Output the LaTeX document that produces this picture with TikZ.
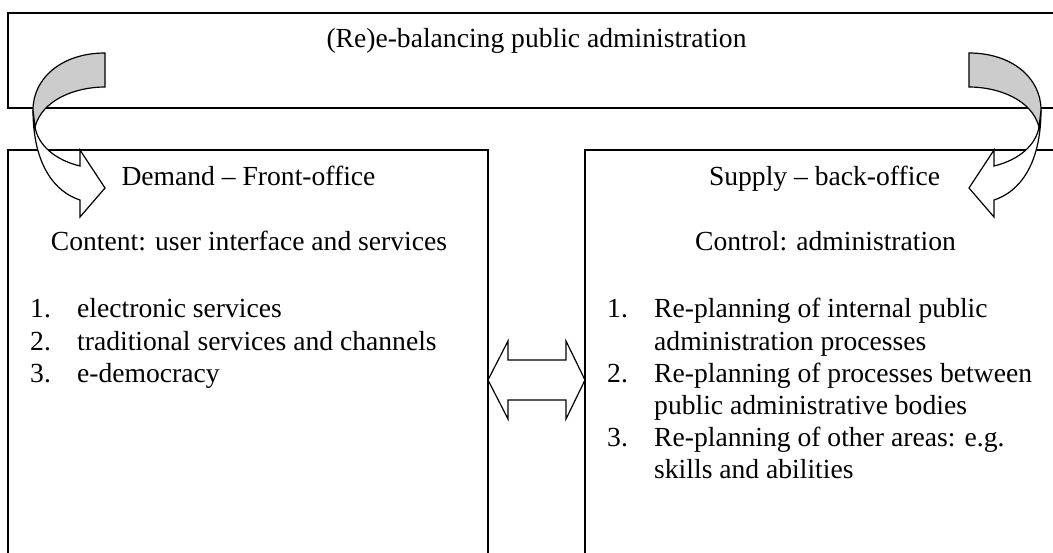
\documentclass[tikz,border=0pt]{standalone}
\usepackage{fontspec}
\setmainfont{Liberation Serif}
\begin{document}
\begin{tikzpicture}[x=1pt,y=-1pt,
  frame/.style={draw=black,line width=1.3pt,fill=none},
  label/.style={inner sep=0pt,anchor=base,font=\fontsize{27.6}{32.5}\selectfont},
  itemno/.style={inner sep=0pt,anchor=base west,font=\fontsize{27.6}{32.5}\selectfont},
  itemtxt/.style={inner sep=0pt,anchor=base west,font=\fontsize{27.6}{32.5}\selectfont},
  bandback/.style={draw=black,line width=1.2pt,fill=black!20,line join=miter},
  bandfront/.style={draw=black,line width=1.2pt,fill=white,line join=miter},
  twoway/.style={draw=black,line width=1.2pt,fill=white,line join=miter}]
\useasboundingbox (0,0) rectangle (1053,552);
\clip (0,0) rectangle (1053,552);

% panels
\draw[frame] (8,13) rectangle (1066,108);
\draw[frame] (8,150) rectangle (488,570);
\draw[frame] (585,150) rectangle (1066,570);

% headings
\node[label] (title) at (536.5,47) {(Re)e-balancing public administration};
\node[label] (demand) at (248.5,185) {Demand – Front-office};
\node[label] (content) at (249,250) {Content: user interface and services};
\node[label] (supply) at (824.5,185) {Supply – back-office};
\node[label] (control) at (825.5,250) {Control: administration};

% front-office list
\node[itemno] (l1n) at (30,317) {1.};
\node[itemtxt] (l1) at (77,317) {electronic services};
\node[itemno] (l2n) at (30,350) {2.};
\node[itemtxt] (l2) at (77,350) {traditional services and channels};
\node[itemno] (l3n) at (30,382) {3.};
\node[itemtxt] (l3) at (77,382) {e-democracy};

% back-office list
\node[itemno] (r1n) at (607,317) {1.};
\node[itemtxt] (r1a) at (654,317) {Re-planning of internal public};
\node[itemtxt] (r1b) at (654,350) {administration processes};
\node[itemno] (r2n) at (607,382) {2.};
\node[itemtxt] (r2a) at (654,382) {Re-planning of processes between};
\node[itemtxt] (r2b) at (654,414) {public administrative bodies};
\node[itemno] (r3n) at (607,446) {3.};
\node[itemtxt] (r3a) at (654,446) {Re-planning of other areas: e.g.};
\node[itemtxt] (r3b) at (654,478) {skills and abilities};

% two-way block arrow between the panels
\draw[twoway] (488,380) -- (508,341) -- (508,360) -- (566,360) -- (566,341)
  -- (585,380) -- (566,419) -- (566,400) -- (508,400) -- (508,419) -- cycle;

% curved block arrow, left side
\draw[bandfront] (33,110) .. controls (33,165) and (55,192) .. (80,200)
  -- (80,217) -- (105,188) -- (80,150) -- (80,166)
  .. controls (55,160) and (38,145) .. (35,127) -- cycle;
\draw[bandback] (105,53) .. controls (62,53) and (33,78) .. (33,110)
  -- (35,127) .. controls (42,100) and (75,87) .. (105,87) -- cycle;

% curved block arrow, right side (mirrored)
\begin{scope}[shift={(1074,0)},xscale=-1]
\draw[bandfront] (33,110) .. controls (33,165) and (55,192) .. (80,200)
  -- (80,217) -- (105,188) -- (80,150) -- (80,166)
  .. controls (55,160) and (38,145) .. (35,127) -- cycle;
\draw[bandback] (105,53) .. controls (62,53) and (33,78) .. (33,110)
  -- (35,127) .. controls (42,100) and (75,87) .. (105,87) -- cycle;
\end{scope}
\end{tikzpicture}
\end{document}
